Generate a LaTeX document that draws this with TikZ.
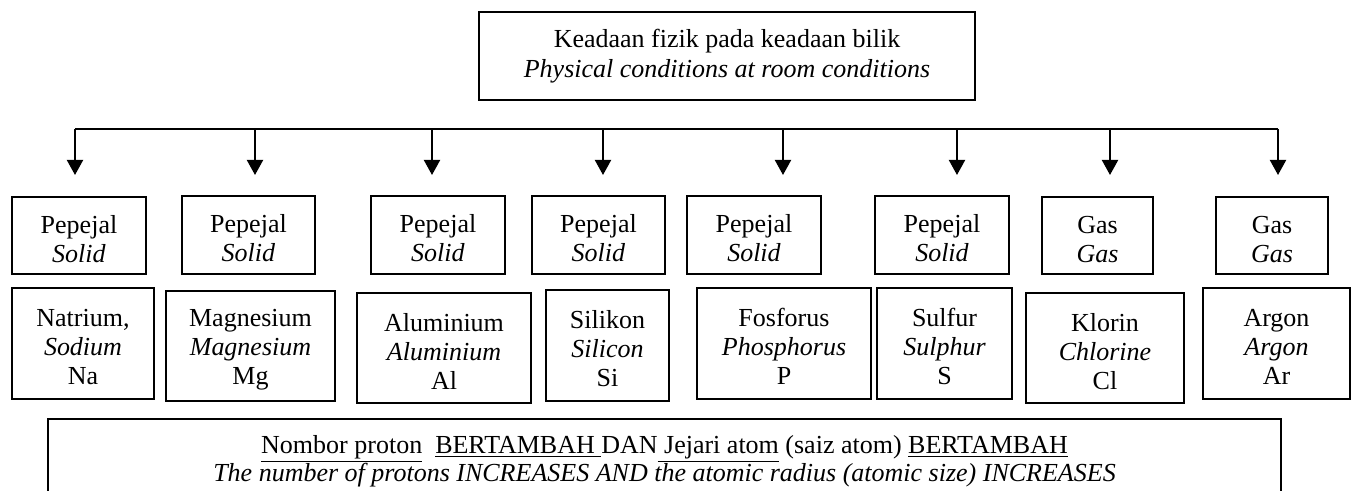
\documentclass[tikz,border=0pt]{standalone}
\usepackage{fontspec}
\setmainfont{Liberation Serif}
\usetikzlibrary{arrows.meta}
\newcommand\liftline{\rule{0pt}{12.5pt}}
\tikzset{
	box/.style={draw, line width=1pt, align=center, inner sep=0pt,
		font=\fontsize{13pt}{14.5pt}\selectfont},
	feed/.style={->, line width=1pt},
}
\begin{document}
\begin{tikzpicture}[x=0.5pt,y=-0.5pt,>={Triangle[width=8pt,length=7.5pt]}]
			\clip (0,0) rectangle (1351,491);
			\node[box, minimum width=248pt, minimum height=44pt, font=\fontsize{13pt}{15pt}\selectfont] (title) at (727,56)
			{Keadaan fizik pada keadaan bilik\\\textit{Physical conditions at room conditions}};
			% bus with the eight arrows
			\coordinate (busL) at (75,129);
			\coordinate (busR) at (1278,129);
			\draw[line width=1.2pt] (busL) -- (busR);
			\foreach \i/\x in {1/75,2/255,3/432,4/603,5/783,6/957,7/1110,8/1278}{
				\coordinate (up\i) at (\x,129);
				\coordinate (tip\i) at (\x,175);
				\draw[feed] (up\i) -- (tip\i);
			}
			% physical state
			\foreach \i/\xa/\xb/\ya/\yb/\txt in {
				1/12/146/197/274/{Pepejal\\\textit{Solid}},
				2/182/315/196/274/{Pepejal\\\textit{Solid}},
				3/371/505/196/274/{Pepejal\\\textit{Solid}},
				4/532/665/196/274/{Pepejal\\\textit{Solid}},
				5/687/821/196/274/{Pepejal\\\textit{Solid}},
				6/875/1009/196/274/{Pepejal\\\textit{Solid}},
				7/1042/1153/197/274/{Gas\\\textit{Gas}},
				8/1216/1328/197/274/{Gas\\\textit{Gas}}}
			\node[box, minimum width={(\xb-\xa)*0.5pt}, minimum height={(\yb-\ya)*0.5pt}] (state\i) at ({(\xa+\xb)/2},{(\ya+\yb)/2}) {\liftline\txt};
			% elements
			\foreach \i/\xa/\xb/\ya/\yb/\txt in {
				1/12/154/288/399/{Natrium,\\\textit{Sodium}\\Na},
				2/166/335/291/401/{Magnesium\\\textit{Magnesium}\\Mg},
				3/357/531/293/403/{Aluminium\\\textit{Aluminium}\\Al},
				4/546/669/290/401/{Silikon\\\textit{Silicon}\\Si},
				5/697/871/288/399/{Fosforus\\\textit{Phosphorus}\\P},
				6/877/1012/288/399/{Sulfur\\\textit{Sulphur}\\S},
				7/1026/1184/293/403/{Klorin\\\textit{Chlorine}\\Cl},
				8/1203/1350/288/399/{Argon\\\textit{Argon}\\Ar}}
			\node[box, minimum width={(\xb-\xa)*0.5pt}, minimum height={(\yb-\ya)*0.5pt}] (elem\i) at ({(\xa+\xb)/2},{(\ya+\yb)/2}) {\liftline\txt};
			\node[box, anchor=north, minimum width=616.5pt, inner ysep=8pt, font=\fontsize{13pt}{14pt}\selectfont] (trend) at (664.5,418)
			{\underline{Nombor proton}\ \ \underline{BERTAMBAH }DAN\underline{ Jejari atom} (saiz atom) \underline{BERTAMBAH}\\
				\textit{The number of protons INCREASES AND the atomic radius (atomic size) INCREASES}};
		\end{tikzpicture}
\end{document}
